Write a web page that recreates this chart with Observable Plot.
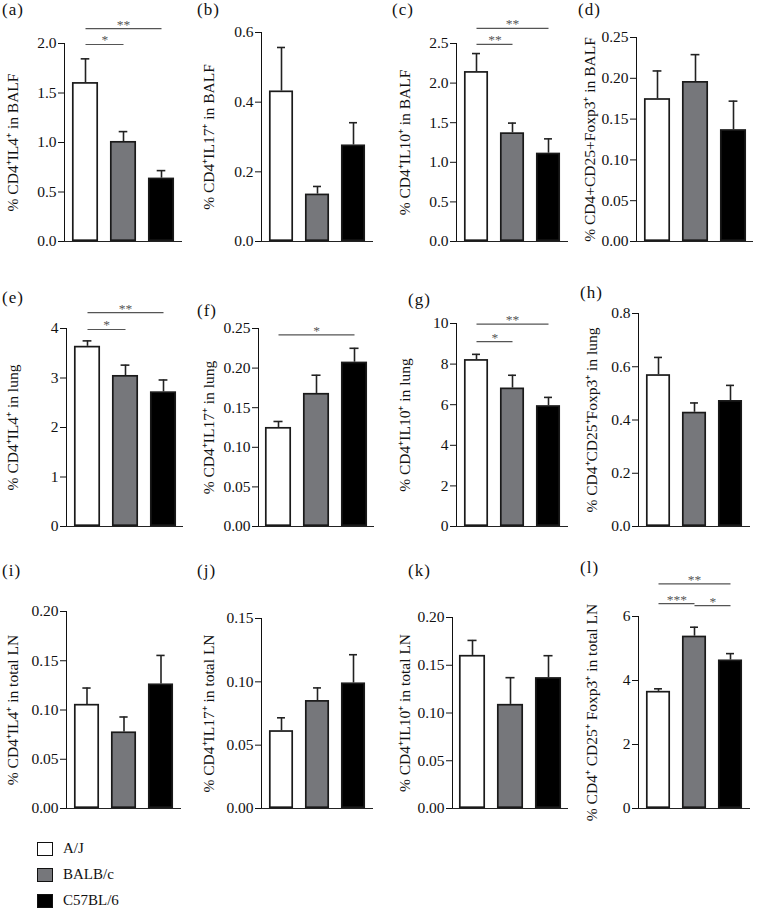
<!DOCTYPE html>
<html><head><meta charset="utf-8">
<script src="https://cdn.jsdelivr.net/npm/d3@7"></script>
<script src="https://cdn.jsdelivr.net/npm/@observablehq/plot@0.6"></script>
<style>
body{margin:0;background:#fff;font-family:"Liberation Serif",serif;}
#fig{position:relative;width:758px;height:909px;overflow:hidden;background:#fff;}
.panel{position:absolute;}
.plab{position:absolute;font-size:17px;line-height:1;color:#111;letter-spacing:1px;}
.leg{position:absolute;font-size:15px;line-height:1;color:#111;display:flex;align-items:center;}
.sw{width:14px;height:12px;border:1.3px solid #111;margin-right:10px;}
</style></head><body><div id="fig"></div>
<script>
// ---------- data ----------
const strains = ["A/J", "BALB/c", "C57BL/6"];
const strainColors = ["#ffffff", "#76777b", "#000000"];
const panelLetters = ["a","b","c","d","e","f","g","h","i","j","k","l"];
const yLabels = [
  "% CD4⁺IL4⁺ in BALF", "% CD4⁺IL17⁺ in BALF", "% CD4⁺IL10⁺ in BALF", "% CD4+CD25+Foxp3⁺ in BALF",
  "% CD4⁺IL4⁺ in lung", "% CD4⁺IL17⁺ in lung", "% CD4⁺IL10⁺ in lung", "% CD4⁺CD25⁺Foxp3⁺ in lung",
  "% CD4⁺IL4⁺ in total LN", "% CD4⁺IL17⁺ in total LN", "% CD4⁺IL10⁺ in total LN", "% CD4⁺ CD25⁺ Foxp3⁺ in total LN"
];
const means = [
  [1.605, 1.01, 0.64], [0.432, 0.136, 0.277], [2.145, 1.372, 1.115], [0.175, 0.196, 0.137],
  [3.64, 3.05, 2.72], [0.125, 0.168, 0.2075], [8.22, 6.82, 5.95], [0.570, 0.429, 0.473],
  [0.1057, 0.0777, 0.1264], [0.0614, 0.0852, 0.0991], [0.1603, 0.109, 0.137], [3.66, 5.385, 4.64]
];
const sems = [
  [0.24, 0.10, 0.076], [0.125, 0.022, 0.064], [0.228, 0.123, 0.181], [0.034, 0.033, 0.035],
  [0.11, 0.21, 0.24], [0.0076, 0.023, 0.0175], [0.26, 0.63, 0.41], [0.065, 0.035, 0.057],
  [0.0166, 0.0152, 0.029], [0.0102, 0.010, 0.0223], [0.0157, 0.028, 0.023], [0.08, 0.28, 0.20]
];
const yTicks = [
  [0, 0.5, 1, 1.5, 2], [0, 0.2, 0.4, 0.6], [0, 0.5, 1, 1.5, 2, 2.5], [0, 0.05, 0.1, 0.15, 0.2, 0.25],
  [0, 1, 2, 3, 4], [0, 0.05, 0.1, 0.15, 0.2, 0.25], [0, 2, 4, 6, 8, 10], [0, 0.2, 0.4, 0.6, 0.8],
  [0, 0.05, 0.1, 0.15, 0.2], [0, 0.05, 0.1, 0.15], [0, 0.05, 0.1, 0.15, 0.2], [0, 2, 4, 6]
];
const yDecimals = [1, 1, 1, 2, 0, 2, 0, 1, 2, 2, 2, 0];
const sigBrackets = [
  [{from: 0, to: 2, y: 2.15, label: "**"}, {from: 0, to: 1, y: 1.99, label: "*"}],
  [],
  [{from: 0, to: 2, y: 2.69, label: "**"}, {from: 0, to: 1, y: 2.49, label: "**"}],
  [],
  [{from: 0, to: 2, y: 4.32, label: "**"}, {from: 0, to: 1, y: 3.98, label: "*"}],
  [{from: 0, to: 2, y: 0.242, label: "*"}],
  [{from: 0, to: 2, y: 9.97, label: "**"}, {from: 0, to: 1, y: 9.11, label: "*"}],
  [],
  [], [], [],
  [{from: 0, to: 2, y: 7.02, label: "**"}, {from: 0, to: 1, y: 6.40, label: "***"}, {from: 1, to: 2, y: 6.34, label: "*"}]
];

// ---------- layout (pixels) ----------
const colLeft = [0, 190, 378, 568, 758];
const rowTop = [0, 270, 550];
const rowHeight = [265, 270, 272];
const axisX = [64, 261, 456, 636, 66, 258, 456, 638, 66, 261, 452, 638];
const axisEnd = [182, 373, 568, 753, 183, 374, 568, 750, 181, 373, 568, 750];
const yTopPx = [43, 32, 43, 37, 328, 328, 323, 313, 611, 618, 617, 616];
const yZeroPx = [241, 241, 241, 241, 526, 526, 526, 526, 808, 808, 808, 808];
const labelCenterX = [15, 211, 407, 592, 15, 211, 407, 594, 15, 211, 407, 594];
const letterPos = [[2, 1], [197, 1], [392, 1], [578, 1], [2, 289], [197, 302], [408, 291], [580, 284], [2, 562], [197, 562], [408, 562], [580, 559]];
const padInner = 0.32, padOuter = 0.18;

const fig = document.getElementById("fig");

panelLetters.forEach((letter, p) => {
  const r = Math.floor(p / 4), c = p % 4;
  const left = colLeft[c], width = colLeft[c + 1] - left;
  const top = rowTop[r], height = rowHeight[r];
  const marginLeft = axisX[p] - left;
  const marginRight = left + width - axisEnd[p];
  const marginTop = yTopPx[p] - top;
  const marginBottom = top + height - yZeroPx[p];
  const rangeW = axisEnd[p] - axisX[p];
  const step = rangeW / (strains.length - padInner + 2 * padOuter);
  const bw = step * (1 - padInner);
  const capInset = (bw - 9) / 2;

  const rows = strains.map((s, i) => ({strain: s, mean: means[p][i], sem: sems[p][i]}));
  const sig = sigBrackets[p].map(d => ({...d, x1: strains[d.from], x2: strains[d.to], mid: strains[Math.floor((d.from + d.to) / 2)], odd: (d.from + d.to) % 2 === 1}));
  const fmt = d3.format(`.${yDecimals[p]}f`);

  const chart = Plot.plot({
    width, height, marginLeft, marginRight, marginTop, marginBottom,
    style: {fontFamily: "Liberation Serif, serif", fontSize: "15.5px", color: "#111", background: "transparent", overflow: "visible"},
    x: {domain: strains, axis: null, paddingInner: padInner, paddingOuter: padOuter},
    y: {domain: [0, yTicks[p][yTicks[p].length - 1]], ticks: yTicks[p], tickFormat: fmt, tickSize: 6, tickPadding: 2,
        label: yLabels[p], labelAnchor: "center", labelArrow: "none", labelOffset: axisX[p] - labelCenterX[p] + 9, line: true},
    color: {domain: strains, range: strainColors},
    marks: [
      Plot.ruleX(rows, {x: "strain", y1: "mean", y2: d => d.mean + d.sem, stroke: "#222", strokeWidth: 1.6}),
      Plot.tickY(rows, {x: "strain", y: d => d.mean + d.sem, stroke: "#222", strokeWidth: 1.6, insetLeft: capInset, insetRight: capInset}),
      Plot.barY(rows, {x: "strain", y: "mean", fill: "strain", stroke: "#1a1a1a", strokeWidth: 1.7, inset: 0.8}),
      Plot.ruleY([0], {stroke: "#222", strokeWidth: 1.2}),
      Plot.link(sig, {x1: "x1", x2: "x2", y1: "y", y2: "y", stroke: "#555", strokeWidth: 1.2}),
      Plot.text(sig.filter(d => !d.odd), {x: "mid", y: "y", text: "label", lineAnchor: "bottom", fill: "#555", fontSize: 13.5}),
      Plot.text(sig.filter(d => d.odd), {x: "mid", y: "y", text: "label", lineAnchor: "bottom", fill: "#555", fontSize: 13.5, dx: step / 2})
    ]
  });
  const holder = document.createElement("div");
  holder.className = "panel";
  holder.style.left = left + "px";
  holder.style.top = top + "px";
  holder.appendChild(chart);
  fig.appendChild(holder);

  const lab = document.createElement("div");
  lab.className = "plab";
  lab.textContent = `(${letter})`;
  lab.style.left = letterPos[p][0] + "px";
  lab.style.top = letterPos[p][1] + "px";
  fig.appendChild(lab);
});

// legend
const legendTop = [841, 867, 893];
strains.forEach((s, i) => {
  const item = document.createElement("div");
  item.className = "leg";
  item.style.left = "37px";
  item.style.top = legendTop[i] + "px";
  const sw = document.createElement("div");
  sw.className = "sw";
  sw.style.background = strainColors[i];
  const t = document.createElement("span");
  t.textContent = s;
  item.appendChild(sw);
  item.appendChild(t);
  fig.appendChild(item);
});
</script></body></html>
